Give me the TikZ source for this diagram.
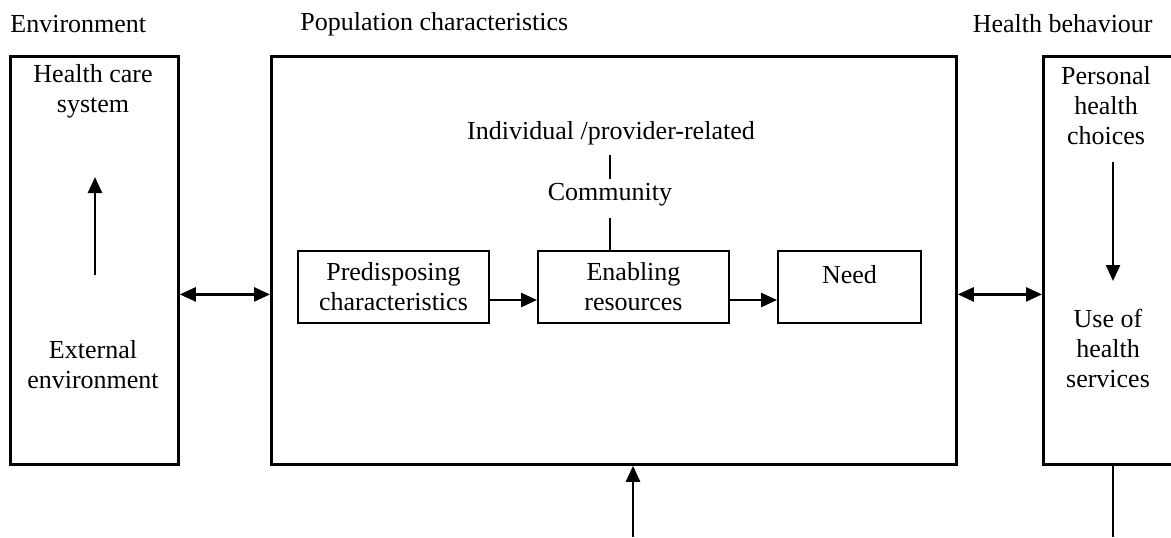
\documentclass[tikz,border=0pt]{standalone}
\usepackage{fontspec}
\setmainfont{Liberation Serif}
\usetikzlibrary{arrows.meta}

\tikzset{
  outerbox/.style={draw, line width=1.4pt, anchor=north west, minimum height=204pt, inner sep=0pt},
  innerbox/.style={draw, line width=1pt, anchor=north west, minimum height=36pt, inner sep=0pt},
  txt/.style={font=\fontsize{13}{15}\selectfont, align=center, inner sep=0pt},
  arr/.style={-{Triangle[length=8pt,width=7pt]}, line width=1.3pt},
  dblarr/.style={{Triangle[length=8pt,width=7pt]}-{Triangle[length=8pt,width=7pt]}, line width=1.3pt}
}

\begin{document}
\begin{tikzpicture}[x=0.5pt,y=-0.5pt]
            \useasboundingbox (0,0) rectangle (1171,537);
            \clip (0,0) rectangle (1171,537);

            % headings
            \node[txt, anchor=west] (envhead) at (10,24) {Environment};
            \node[txt, anchor=west] (pophead) at (300,24) {Population characteristics};
            \node[txt, anchor=east] (behhead) at (1153,24) {Health behaviour};

            % the three columns
            \node[outerbox, minimum width=84pt] (envbox) at (9,55) {};
            \node[outerbox, minimum width=342.5pt] (popbox) at (270,55) {};
            \node[outerbox, minimum width=100pt] (behbox) at (1042,55) {};

            \node[txt] (hcs) at (93,91) {Health care\\system};
            \node[txt] (extenv) at (93,365) {External\\environment};
            \coordinate (envtail) at (95,275);
            \coordinate (envtip) at (95,177);
            \draw[arr] (envtail) -- (envtip);

            \node[txt] (choices) at (1106,106) {Personal\\health\\choices};
            \node[txt] (useserv) at (1108,348) {Use of\\health\\services};
            \coordinate (behtail) at (1113,162);
            \coordinate (behtip) at (1113,281);
            \draw[arr] (behtail) -- (behtip);

            % inside the population box
            \node[txt] (indiv) at (611,133) {Individual /provider-related};
            \node[txt] (comm) at (610,195) {Community};

            \node[innerbox, minimum width=95.5pt] (predbox) at (297,250) {};
            \node[innerbox, minimum width=95.5pt] (enabbox) at (537,250) {};
            \node[innerbox, minimum width=71.5pt] (needbox) at (777,250) {};
            \node[txt, anchor=north] at ([yshift=-6pt]predbox.north) {Predisposing\\characteristics};
            \node[txt, anchor=north] at ([yshift=-6pt]enabbox.north) {Enabling\\resources};
            \node[txt, anchor=north] at ([yshift=-7.5pt]needbox.north) {Need};

            \draw[line width=1pt] ([yshift=-5pt]indiv.south -| comm) -- ([yshift=2pt]comm.north);
            \draw[line width=1pt] ([yshift=-5.5pt]comm.south) -- (comm.south |- enabbox.north);

            \draw[arr] ([yshift=-6.5pt]predbox.east) -- ([yshift=-6.5pt]enabbox.west);
            \draw[arr] ([yshift=-6.5pt]enabbox.east) -- ([yshift=-6.5pt]needbox.west);

            % links between the columns
            \draw[dblarr] ([yshift=-17pt]envbox.east) -- ([yshift=-17pt]popbox.west);
            \draw[dblarr] ([yshift=-17pt]popbox.east) -- ([yshift=-17pt]behbox.west);

            % feedback
            \coordinate (popfoot) at (633,537);
            \draw[arr] (popfoot) -- (popfoot |- popbox.south);
            \coordinate (behfoot) at (1113,537);
            \draw[line width=1.3pt] (behfoot |- behbox.south) -- (behfoot);
\end{tikzpicture}
\end{document}
